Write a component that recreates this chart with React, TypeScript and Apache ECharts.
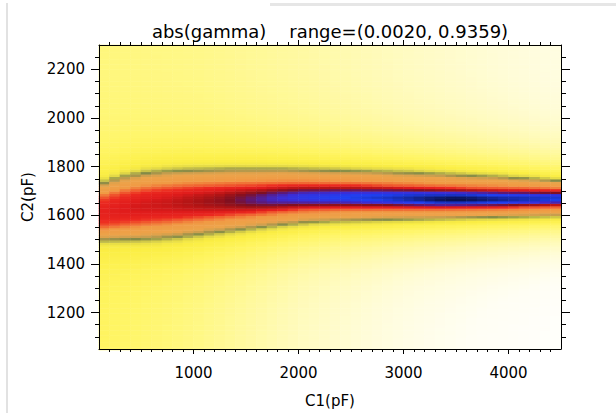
import React, { useEffect, useRef } from 'react';
import * as echarts from 'echarts';

// ---- data ----
// C1 (pF) column centres of the map (each column spans 100 pF)
const C1_COLS = [
  150, 250, 350, 450, 550, 650, 750, 850, 950, 1050, 1150, 1250, 1350, 1450, 1550, 1650, 1750, 1850, 1950, 2050, 2150, 2250,
  2350, 2450, 2550, 2650, 2750, 2850, 2950, 3050, 3150, 3250, 3350, 3450, 3550, 3650, 3750, 3850, 3950, 4050, 4150, 4250,
  4350, 4450,
];
// C2 (pF) of the ridge (band centre) per column
const BAND_CENTER = [
  1617, 1624, 1631, 1637, 1642, 1646, 1649, 1652, 1655, 1657, 1659, 1661, 1663, 1665, 1666, 1668, 1670, 1672, 1674, 1675,
  1675, 1675, 1675, 1675, 1675, 1674, 1674, 1673, 1672, 1671, 1670, 1669, 1668, 1668, 1668, 1668, 1668, 1668, 1668, 1669,
  1670, 1670, 1671, 1672,
];
// C2 (pF) of the upper dark edge of the band per column
const BAND_UPPER = [
  1738, 1752, 1763, 1771, 1777, 1781, 1784, 1786, 1788, 1789, 1790, 1791, 1792, 1792, 1792, 1792, 1792, 1792, 1791, 1790,
  1789, 1788, 1787, 1786, 1785, 1784, 1782, 1781, 1779, 1778, 1776, 1774, 1772, 1770, 1768, 1766, 1764, 1762, 1760, 1757,
  1755, 1752, 1749, 1746,
];
// C2 (pF) of the lower dark edge of the band per column
const BAND_LOWER = [
  1500, 1501, 1502, 1503, 1505, 1507, 1510, 1514, 1519, 1524, 1529, 1534, 1539, 1544, 1549, 1554, 1559, 1564, 1568, 1572,
  1575, 1577, 1579, 1580, 1581, 1582, 1583, 1584, 1585, 1586, 1587, 1588, 1589, 1590, 1591, 1592, 1593, 1594, 1595, 1596,
  1597, 1598, 1599, 1600,
];
// relative level (0..1 of the colour range) on the ridge per column
const BAND_PEAK = [
  0.7, 0.71, 0.72, 0.73, 0.735, 0.74, 0.745, 0.755, 0.765, 0.775, 0.785, 0.795, 0.81, 0.825, 0.84, 0.855, 0.87, 0.88, 0.89,
  0.9, 0.905, 0.91, 0.915, 0.92, 0.925, 0.93, 0.935, 0.94, 0.948, 0.956, 0.964, 0.972, 0.978, 0.982, 0.982, 0.978, 0.972,
  0.966, 0.96, 0.955, 0.95, 0.945, 0.94, 0.935,
];
// relative level at the top (C2 = 2300) per column
const BG_TOP = [
  0.26, 0.258, 0.256, 0.254, 0.252, 0.25, 0.248, 0.246, 0.244, 0.242, 0.238, 0.234, 0.23, 0.226, 0.222, 0.218, 0.214, 0.21,
  0.206, 0.202, 0.197, 0.192, 0.187, 0.182, 0.177, 0.172, 0.167, 0.162, 0.157, 0.152, 0.148, 0.144, 0.14, 0.136, 0.132,
  0.128, 0.124, 0.12, 0.116, 0.112, 0.108, 0.104, 0.1, 0.097,
];
// relative level at the bottom (C2 = 1050) per column
const BG_BOTTOM = [
  0.3, 0.295, 0.29, 0.284, 0.278, 0.272, 0.266, 0.259, 0.252, 0.245, 0.236, 0.227, 0.218, 0.209, 0.2, 0.191, 0.182, 0.173,
  0.164, 0.155, 0.148, 0.141, 0.134, 0.127, 0.12, 0.113, 0.106, 0.099, 0.092, 0.086, 0.08, 0.075, 0.07, 0.065, 0.06, 0.055,
  0.05, 0.046, 0.042, 0.038, 0.034, 0.03, 0.025, 0.02,
];
const GAMMA_RANGE = [0.002, 0.9359];
const C1_RANGE = [100, 4500];
const C2_RANGE = [1050, 2300];
const C2_STEP = 10;
const X_TICKS = [1000, 2000, 3000, 4000];
const Y_TICKS = [1200, 1400, 1600, 1800, 2000, 2200];
const TITLE = 'abs(gamma)    range=(0.0020, 0.9359)';

// ---- colour table ----
const COLOR_STOPS: [number, string][] = [
  [0.0, '#ffffff'], [0.06, '#fffef4'], [0.12, '#fffcd8'], [0.18, '#fffab4'], [0.24, '#fff88c'], [0.3, '#fff563'],
  [0.35, '#fbee44'], [0.39, '#e2d846'], [0.42, '#a8a64a'], [0.44, '#848a46'], [0.47, '#c89e4e'], [0.5, '#eca44a'],
  [0.58, '#f09a44'], [0.63, '#f06030'], [0.67, '#ec2a20'], [0.72, '#e01c1c'], [0.77, '#b01414'], [0.81, '#801020'],
  [0.845, '#5a1a80'], [0.88, '#3a2ed8'], [0.92, '#1e40f2'], [0.955, '#1428a0'], [1.0, '#000010'],
];

function hexToRgb(h: string) {
  return [parseInt(h.slice(1, 3), 16), parseInt(h.slice(3, 5), 16), parseInt(h.slice(5, 7), 16)];
}
function sampleColor(p: number) {
  for (let i = 0; i < COLOR_STOPS.length - 1; i++) {
    const [p0, c0] = COLOR_STOPS[i];
    const [p1, c1] = COLOR_STOPS[i + 1];
    if (p <= p1) {
      const f = (p - p0) / (p1 - p0);
      const a = hexToRgb(c0);
      const b = hexToRgb(c1);
      const r = a.map((v, k) => Math.round(v + (b[k] - v) * f));
      return `rgb(${r[0]},${r[1]},${r[2]})`;
    }
  }
  return COLOR_STOPS[COLOR_STOPS.length - 1][1];
}
const PALETTE = Array.from({ length: 201 }, (_, i) => sampleColor(i / 200));

// ---- cell level from the band description of each column ----
function level(col: number, c2: number) {
  const center = BAND_CENTER[col];
  const d = c2 - center;
  const half = d >= 0 ? BAND_UPPER[col] - center : center - BAND_LOWER[col];
  const t = Math.abs(d) / half;
  const peak = BAND_PEAK[col];
  if (t <= 0.48) {
    const u = t / 0.48;
    return 0.64 + (peak - 0.64) * (1 - u * u);
  }
  if (t <= 0.84) return 0.64 - ((t - 0.48) / 0.36) * 0.14;
  if (t <= 0.93) return 0.5 - ((t - 0.84) / 0.09) * 0.03;
  if (t <= 1.04) return 0.47 - ((t - 0.93) / 0.11) * 0.06;
  if (t <= 1.18) return 0.41 - ((t - 1.04) / 0.14) * 0.05;
  const far = d >= 0 ? BG_TOP[col] : BG_BOTTOM[col];
  const dist = Math.abs(d) - 1.18 * half;
  return far + (0.36 - far) * Math.exp(-dist / 120);
}

const C2_ROWS: number[] = [];
for (let c = C2_RANGE[0] + C2_STEP / 2; c < C2_RANGE[1]; c += C2_STEP) C2_ROWS.push(c);

const heatData: number[][] = [];
C1_COLS.forEach((_, xi) => {
  C2_ROWS.forEach((c2, yi) => {
    const v = level(xi, c2);
    heatData.push([xi, yi, GAMMA_RANGE[0] + v * (GAMMA_RANGE[1] - GAMMA_RANGE[0])]);
  });
});

const X_MINOR: number[] = [];
for (let v = 200; v < C1_RANGE[1]; v += 100) X_MINOR.push(v);
const Y_MINOR: number[] = [];
for (let v = 1100; v < C2_RANGE[1]; v += 50) Y_MINOR.push(v);

const FONT = 'DejaVu Sans';
const GRID = { left: 99, right: 55, top: 45, bottom: 63 };
const plain = (v: number) => String(v);

function xAxisDef(position: 'top' | 'bottom', ticks: number[], len: number, labels: boolean, line: boolean) {
  return {
    type: 'value',
    gridIndex: 1,
    position,
    min: C1_RANGE[0],
    max: C1_RANGE[1],
    z: 10,
    splitLine: { show: false },
    axisLine: { show: line, onZero: false, lineStyle: { color: '#000', width: 1 } },
    axisTick: { show: true, inside: false, length: len, customValues: ticks, lineStyle: { color: '#000', width: 1 } },
    axisLabel: labels
      ? { show: true, customValues: ticks, formatter: plain, color: '#000', fontSize: 15, fontFamily: FONT, margin: 16 }
      : { show: false },
    ...(labels
      ? {
          name: 'C1(pF)',
          nameLocation: 'middle',
          nameGap: 44,
          nameTextStyle: { color: '#000', fontSize: 15, fontFamily: FONT },
        }
      : {}),
  };
}
function yAxisDef(position: 'left' | 'right', ticks: number[], len: number, labels: boolean, line: boolean) {
  return {
    type: 'value',
    gridIndex: 1,
    position,
    min: C2_RANGE[0],
    max: C2_RANGE[1],
    z: 10,
    splitLine: { show: false },
    axisLine: { show: line, onZero: false, lineStyle: { color: '#000', width: 1 } },
    axisTick: { show: true, inside: false, length: len, customValues: ticks, lineStyle: { color: '#000', width: 1 } },
    axisLabel: labels
      ? { show: true, customValues: ticks, formatter: plain, color: '#000', fontSize: 15, fontFamily: FONT, margin: 14 }
      : { show: false },
    ...(labels
      ? {
          name: 'C2(pF)',
          nameLocation: 'middle',
          nameGap: 62,
          nameTextStyle: { color: '#000', fontSize: 15, fontFamily: FONT },
        }
      : {}),
  };
}

export default function App() {
  const ref = useRef<HTMLDivElement>(null);
  useEffect(() => {
    document.body.style.margin = '0';
    const chart = echarts.init(ref.current!, null, { renderer: 'svg' });
    chart.setOption({
      animation: false,
      backgroundColor: '#ffffff',
      grid: [{ ...GRID }, { ...GRID }],
      xAxis: [
        { type: 'category', gridIndex: 0, data: C1_COLS.map(String), show: false },
        xAxisDef('bottom', X_TICKS, 5, true, true),
        xAxisDef('bottom', X_MINOR, 3, false, false),
        xAxisDef('top', X_TICKS, 5, false, true),
        xAxisDef('top', X_MINOR, 3, false, false),
      ],
      yAxis: [
        { type: 'category', gridIndex: 0, data: C2_ROWS.map(String), show: false },
        yAxisDef('left', Y_TICKS, 8, true, true),
        yAxisDef('left', Y_MINOR, 4, false, false),
        yAxisDef('right', Y_TICKS, 9, false, true),
        yAxisDef('right', Y_MINOR, 5, false, false),
      ],
      visualMap: {
        type: 'continuous',
        show: false,
        min: GAMMA_RANGE[0],
        max: GAMMA_RANGE[1],
        dimension: 2,
        seriesIndex: 0,
        inRange: { color: PALETTE },
      },
      graphic: [
        { type: 'rect', shape: { x: 6, y: 3, width: 2, height: 410 }, style: { fill: '#e2e2e2' }, silent: true },
        { type: 'rect', shape: { x: 270, y: 3, width: 346, height: 3 }, style: { fill: '#e6e6e6' }, silent: true },
        {
          type: 'text',
          x: 330,
          y: 31,
          style: {
            text: TITLE,
            fill: '#000',
            fontSize: 18,
            fontFamily: FONT,
            align: 'center',
            verticalAlign: 'middle',
          },
        },
      ],
      series: [
        {
          type: 'heatmap',
          xAxisIndex: 0,
          yAxisIndex: 0,
          data: heatData,
          progressive: 0,
          itemStyle: { borderWidth: 0 },
          emphasis: { disabled: true },
        },
      ],
    });
    return () => chart.dispose();
  }, []);
  return <div ref={ref} style={{ width: 616, height: 413 }} />;
}
